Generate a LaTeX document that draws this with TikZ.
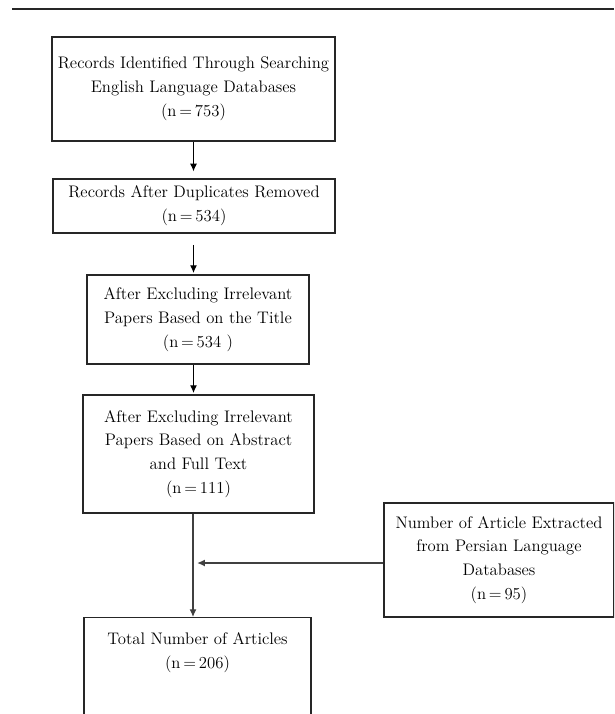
\documentclass[tikz,border=0pt]{standalone}
\usetikzlibrary{arrows.meta}
\tikzset{
    box/.style = {draw = black!85, line width = 0.8pt, align = center, inner sep = 0pt},
    link/.style = {->, line width = 0.8pt}
}
\begin{document}
\fontsize{11.9}{17}\selectfont
\begin{tikzpicture}[x = 0.025cm, y = -0.025cm, >={Latex[length=5.5pt, width=5pt]}]
        \clip (0, 0) rectangle (614, 714);
        \draw[black!85, line width = 0.8pt] (12, 9) -- (614, 9);
        \node[box, minimum width = 7.075cm, minimum height = 2.6cm] (records) at (193.5, 89)
            {Records Identified Through Searching\\ English Language Databases\\ (n\,=\,753)};
        \node[box, minimum width = 7.05cm, minimum height = 1.35cm] (dupl) at (194, 206)
            {Records After Duplicates Removed\\ (n\,=\,534)};
        \node[box, minimum width = 5.55cm, minimum height = 2.225cm] (title) at (198, 319.5)
            {After Excluding Irrelevant\\ Papers Based on the Title\\ (n\,=\,534 )};
        \node[box, minimum width = 5.775cm, minimum height = 2.95cm] (abstr) at (198.5, 454)
            {After Excluding Irrelevant\\ Papers Based on Abstract\\ and Full Text\\ (n\,=\,111)};
        \node[box, minimum width = 5.75cm, minimum height = 2.85cm] (persian) at (499, 560)
            {Number of Article Extracted\\ from Persian Language\\ Databases\\ (n\,=\,95)};
        \node[box, anchor = north, minimum width = 5.675cm, inner ysep = 10.5pt, text depth = 3cm] (total) at (197.5, 617)
            {Total Number of Articles\\ (n\,=\,206)};
        \coordinate (join) at (193, 563);
        \draw[link, shorten > = 5pt] (records) -- (records.south |- dupl.north);
        \draw[link, shorten < = 8pt, shorten > = 1pt] (dupl.south -| records) -- (records |- title.north);
        \draw[link, shorten > = 1pt] (title.south -| records) -- (records |- abstr.north);
        \draw[link, black!75] (abstr.south -| join) -- (join |- total.north);
        \draw[link, black!75, shorten > = 3pt] (persian.west |- join) -- (join);
    \end{tikzpicture}
\end{document}
